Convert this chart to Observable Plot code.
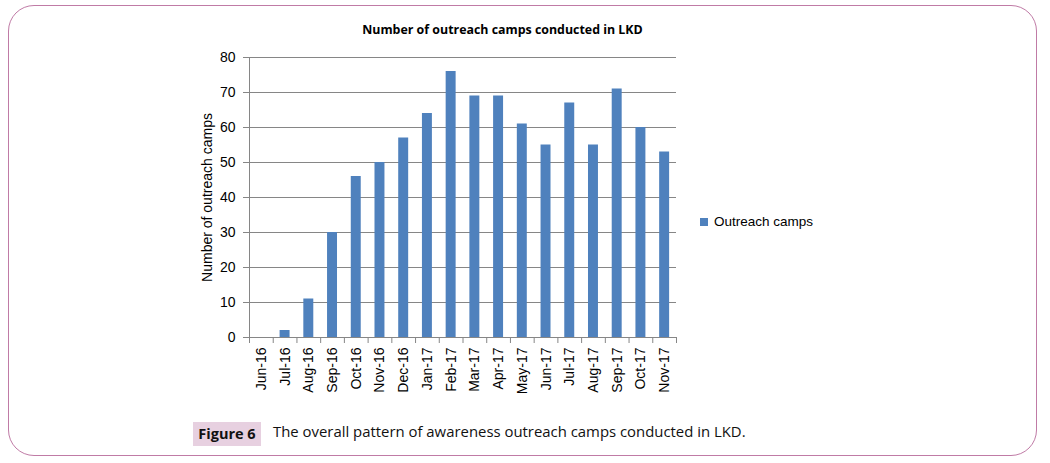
<!DOCTYPE html>
<html>
<head>
<meta charset="utf-8">
<script src="https://cdn.jsdelivr.net/npm/d3@7"></script>
<script src="https://cdn.jsdelivr.net/npm/@observablehq/plot@0.6"></script>
<style>
  html, body { margin: 0; padding: 0; background: #fff; }
  #wrap { position: relative; width: 1050px; height: 463px; overflow: hidden; }
  #border { position: absolute; left: 8px; top: 5px; width: 1027px; height: 449px;
    border: 1.5px solid #c07ba6; border-radius: 26px; box-sizing: content-box; }
  #title { position: absolute; left: 250px; width: 505px; top: 21px; text-align: center;
    font-family: "Open Sans", sans-serif; font-weight: bold; font-size: 12.4px; color: #000; }
  #legend { position: absolute; left: 700px; top: 214px; font-family: "Liberation Sans", Arial, sans-serif;
    font-size: 13.5px; color: #000; display: flex; align-items: center; }
  #legend .sw { width: 8px; height: 8px; background: #4f81bd; margin-right: 6px; }
  #figlab { position: absolute; left: 193px; top: 422px; width: 68px; height: 24px; background: #e7d0e0;
    font-family: "Open Sans", sans-serif; font-weight: bold; font-size: 14.5px; line-height: 24px; text-align: center; color: #111; }
  #figtxt { position: absolute; left: 273px; top: 421px; font-family: "Open Sans", sans-serif; font-size: 14.9px; color: #111; }
  #chart { position: absolute; left: 0; top: 0; }
</style>
</head>
<body>
<div id="wrap">
  <div id="chart"></div>
  <div id="border"></div>
  <div id="title">Number of outreach camps conducted in LKD</div>
  <div id="legend"><span class="sw"></span><span>Outreach camps</span></div>
  <div id="figlab">Figure 6</div>
  <div id="figtxt">The overall pattern of awareness outreach camps conducted in LKD.</div>
</div>
<script>
const months = ["Jun-16","Jul-16","Aug-16","Sep-16","Oct-16","Nov-16","Dec-16","Jan-17","Feb-17","Mar-17","Apr-17","May-17","Jun-17","Jul-17","Aug-17","Sep-17","Oct-17","Nov-17"];
const camps = [0, 2, 11, 30, 46, 50, 57, 64, 76, 69, 69, 61, 55, 67, 55, 71, 60, 53];
const yTicks = [0, 10, 20, 30, 40, 50, 60, 70, 80];
const seriesName = "Outreach camps";

const data = months.map((m, i) => ({month: m, value: camps[i]}));

const W = 1050, H = 463, mL = 249, mR = 374, mT = 57, mB = 126;
const step = (W - mL - mR) / months.length;
const gray = "#868686";

const chart = Plot.plot({
  width: W, height: H,
  marginLeft: mL, marginRight: mR, marginTop: mT, marginBottom: mB,
  style: {fontFamily: "'Liberation Sans', Arial, sans-serif", fontSize: "14px", color: "#000", background: "transparent"},
  x: {domain: months, paddingInner: 0.58, paddingOuter: 0.29, align: 0.5, round: false},
  y: {domain: [0, 80]},
  marks: [
    Plot.gridY(yTicks, {stroke: gray, strokeOpacity: 1, strokeWidth: 1}),
    Plot.axisY(yTicks, {tickSize: 6, stroke: gray, tickPadding: 8, fontSize: 14, label: null}),
    Plot.text(["Number of outreach camps"], {frameAnchor: "left", textAnchor: "middle", rotate: -90, dx: -42, fontSize: 14, fill: "#000"}),
    Plot.barY(data, {x: "month", y: "value", fill: "#4f81bd"}),
    Plot.ruleY([0], {stroke: gray}),
    Plot.frame({anchor: "left", stroke: gray}),
    Plot.ruleX(months, {x: d => d, y1: 0, y2: 0, dx: -step / 2, insetTop: 0, insetBottom: -6, stroke: gray}),
    Plot.ruleX([months[months.length - 1]], {x: d => d, y1: 0, y2: 0, dx: step / 2, insetTop: 0, insetBottom: -6, stroke: gray}),
    Plot.axisX({tickSize: 0, tickRotate: -90, tickPadding: 10, fontSize: 14, label: null})
  ]
});
document.getElementById("chart").appendChild(chart);
</script>
</body>
</html>
